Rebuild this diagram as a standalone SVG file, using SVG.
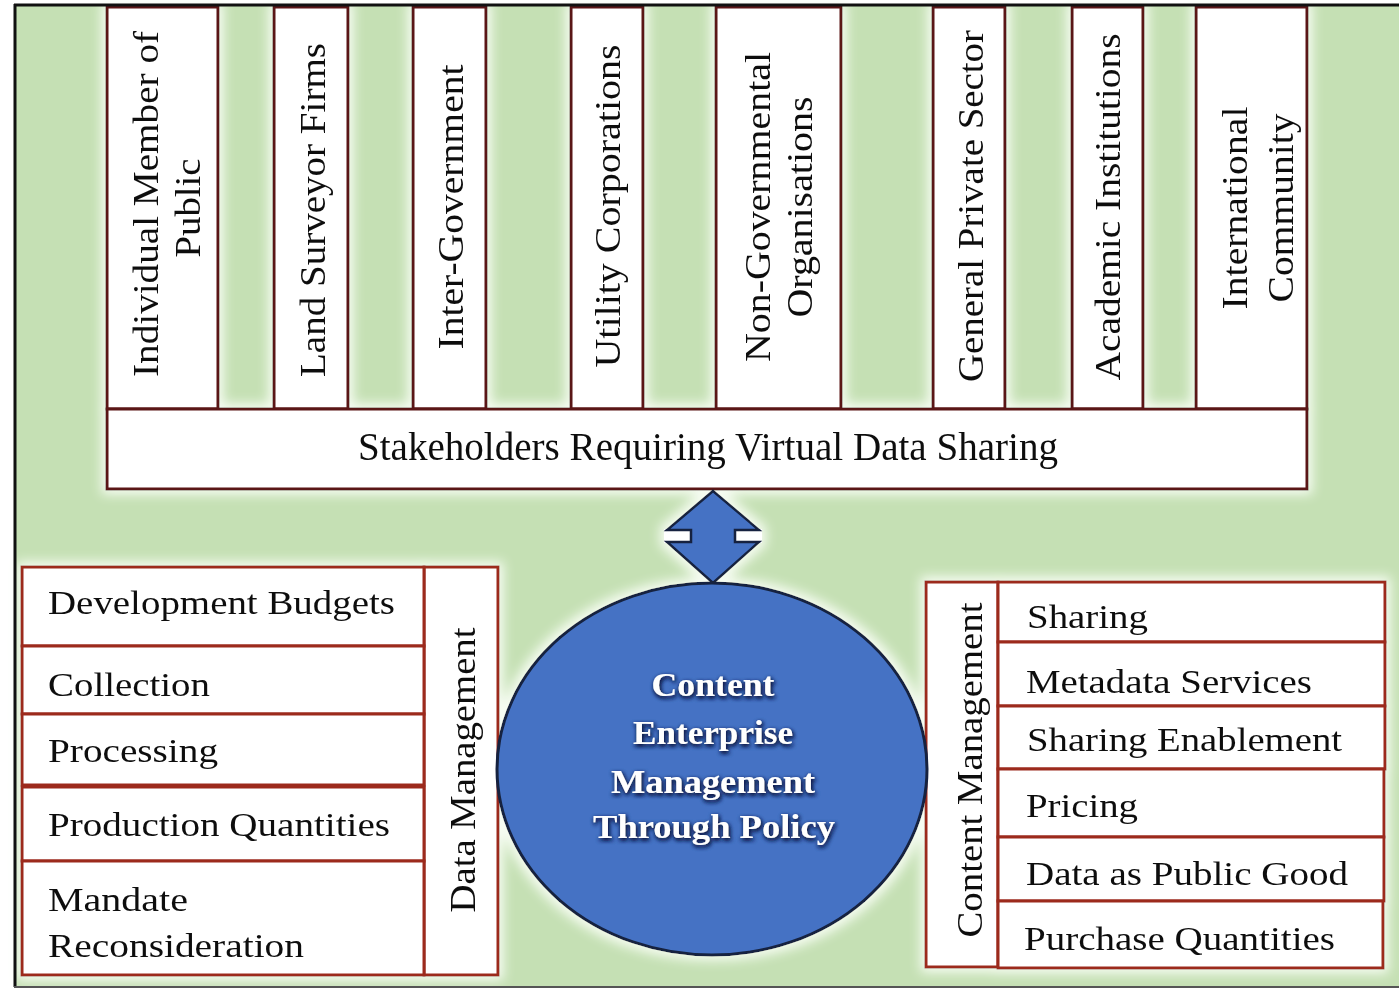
<svg xmlns="http://www.w3.org/2000/svg" width="1399" height="989" viewBox="0 0 1399 989">
<defs>
<style>
.bg{fill:#c5e0b4}
.col{fill:#ffffff;stroke:#5a1414;stroke-width:3}
.box{fill:#ffffff;stroke:#9c2a1e;stroke-width:3}
.vt{font-family:"Liberation Serif","Times New Roman",serif;font-size:36px;fill:#111;text-anchor:middle}
.ht{font-family:"Liberation Serif","Times New Roman",serif;font-size:34px;fill:#111}
.et{font-family:"Liberation Serif","Times New Roman",serif;font-size:34px;font-weight:bold;fill:#ffffff;text-anchor:middle}
</style>
<filter id="glow" x="-5%" y="-5%" width="110%" height="110%">
<feMorphology in="SourceAlpha" operator="dilate" radius="4" result="d"/>
<feGaussianBlur in="d" stdDeviation="6" result="b"/>
<feFlood flood-color="#f6fcf2"/>
<feComposite in2="b" operator="in" result="g"/>
<feMerge><feMergeNode in="g"/><feMergeNode in="SourceGraphic"/></feMerge>
</filter>
<filter id="tsh" x="-20%" y="-40%" width="140%" height="180%">
<feGaussianBlur in="SourceAlpha" stdDeviation="2.2" result="b"/>
<feOffset in="b" dx="1" dy="1.5" result="o"/>
<feFlood flood-color="#14204a"/>
<feComposite in2="o" operator="in" result="s"/>
<feMerge><feMergeNode in="s"/><feMergeNode in="s"/><feMergeNode in="SourceGraphic"/></feMerge>
</filter>
</defs>
<rect x="0" y="0" width="1399" height="989" fill="#ffffff"/>
<rect class="bg" x="15" y="5" width="1384" height="982"/>
<g filter="url(#glow)">
<g id="stakeholders">
<g id="col-individual">
<rect class="col" x="107" y="7" width="111" height="402"/>
<text class="vt" transform="translate(158,204) rotate(-90)" textLength="346" lengthAdjust="spacingAndGlyphs">Individual Member of</text>
<text class="vt" transform="translate(200,208) rotate(-90)" textLength="99" lengthAdjust="spacingAndGlyphs">Public</text>
</g>
<g id="col-land">
<rect class="col" x="274" y="7" width="74" height="402"/>
<text class="vt" transform="translate(325,210) rotate(-90)" textLength="334" lengthAdjust="spacingAndGlyphs">Land Surveyor Firms</text>
</g>
<g id="col-inter">
<rect class="col" x="413" y="7" width="73" height="402"/>
<text class="vt" transform="translate(463,207) rotate(-90)" textLength="285" lengthAdjust="spacingAndGlyphs">Inter-Government</text>
</g>
<g id="col-utility">
<rect class="col" x="571" y="7" width="72" height="402"/>
<text class="vt" transform="translate(620,206) rotate(-90)" textLength="323" lengthAdjust="spacingAndGlyphs">Utility Corporations</text>
</g>
<g id="col-ngo">
<rect class="col" x="716" y="7" width="125" height="402"/>
<text class="vt" transform="translate(770,207) rotate(-90)" textLength="310" lengthAdjust="spacingAndGlyphs">Non-Governmental</text>
<text class="vt" transform="translate(812,207) rotate(-90)" textLength="221" lengthAdjust="spacingAndGlyphs">Organisations</text>
</g>
<g id="col-private">
<rect class="col" x="933" y="7" width="72" height="402"/>
<text class="vt" transform="translate(983,206) rotate(-90)" textLength="352" lengthAdjust="spacingAndGlyphs">General Private Sector</text>
</g>
<g id="col-academic">
<rect class="col" x="1072" y="7" width="71" height="402"/>
<text class="vt" transform="translate(1120,207) rotate(-90)" textLength="347" lengthAdjust="spacingAndGlyphs">Academic Institutions</text>
</g>
<g id="col-international">
<rect class="col" x="1196" y="7" width="111" height="402"/>
<text class="vt" transform="translate(1247,208) rotate(-90)" textLength="203" lengthAdjust="spacingAndGlyphs">International</text>
<text class="vt" transform="translate(1293,208) rotate(-90)" textLength="189" lengthAdjust="spacingAndGlyphs">Community</text>
</g>
<g id="bar-stakeholders">
<rect class="col" x="107" y="409" width="1200" height="80"/>
<text x="358" y="460" font-family="Liberation Serif, Times New Roman, serif" font-size="40" fill="#111" textLength="700" lengthAdjust="spacingAndGlyphs">Stakeholders Requiring Virtual Data Sharing</text>
</g>
</g>
<g id="data-management">
<g id="dm-column">
<rect class="box" x="424" y="567" width="74" height="408"/>
<text class="vt" transform="translate(475,770) rotate(-90)" textLength="285" lengthAdjust="spacingAndGlyphs">Data Management</text>
</g>
<g id="dm-budgets">
<rect class="box" x="22" y="567" width="402" height="79"/>
<text class="ht" x="48" y="614" textLength="347" lengthAdjust="spacingAndGlyphs">Development Budgets</text>
</g>
<g id="dm-collection">
<rect class="box" x="22" y="646" width="402" height="68"/>
<text class="ht" x="48" y="696" textLength="162" lengthAdjust="spacingAndGlyphs">Collection</text>
</g>
<g id="dm-processing">
<rect class="box" x="22" y="714" width="402" height="71"/>
<text class="ht" x="48" y="762" textLength="170" lengthAdjust="spacingAndGlyphs">Processing</text>
</g>
<g id="dm-production">
<rect class="box" x="22" y="787" width="402" height="74"/>
<text class="ht" x="48" y="836" textLength="342" lengthAdjust="spacingAndGlyphs">Production Quantities</text>
</g>
<g id="dm-mandate">
<rect class="box" x="22" y="861" width="402" height="114"/>
<text class="ht" x="48" y="911" textLength="140" lengthAdjust="spacingAndGlyphs">Mandate</text>
<text class="ht" x="48" y="957" textLength="256" lengthAdjust="spacingAndGlyphs">Reconsideration</text>
</g>
</g>
<g id="content-management">
<g id="cm-column">
<rect class="box" x="926" y="582" width="72" height="385"/>
<text class="vt" transform="translate(982,770) rotate(-90)" textLength="335" lengthAdjust="spacingAndGlyphs">Content Management</text>
</g>
<g id="cm-sharing">
<rect class="box" x="998" y="582" width="387" height="60"/>
<text class="ht" x="1027" y="628" textLength="121" lengthAdjust="spacingAndGlyphs">Sharing</text>
</g>
<g id="cm-metadata">
<rect class="box" x="998" y="642" width="387" height="64"/>
<text class="ht" x="1026" y="693" textLength="286" lengthAdjust="spacingAndGlyphs">Metadata Services</text>
</g>
<g id="cm-enablement">
<rect class="box" x="998" y="706" width="387" height="63"/>
<text class="ht" x="1027" y="751" textLength="315" lengthAdjust="spacingAndGlyphs">Sharing Enablement</text>
</g>
<g id="cm-pricing">
<rect class="box" x="998" y="769" width="386" height="68"/>
<text class="ht" x="1026" y="817" textLength="112" lengthAdjust="spacingAndGlyphs">Pricing</text>
</g>
<g id="cm-public-good">
<rect class="box" x="998" y="837" width="386" height="64"/>
<text class="ht" x="1026" y="885" textLength="322" lengthAdjust="spacingAndGlyphs">Data as Public Good</text>
</g>
<g id="cm-purchase">
<rect class="box" x="998" y="901" width="385" height="67"/>
<text class="ht" x="1024" y="950" textLength="311" lengthAdjust="spacingAndGlyphs">Purchase Quantities</text>
</g>
</g>
<g id="connectors">
<rect x="664" y="529" width="98" height="14" fill="#ffffff"/>
<polygon points="713,491 759,530 735,530 735,542 759,542 713,583 667,542 691,542 691,530 667,530" fill="#4472c4" stroke="#16223f" stroke-width="2.5" stroke-linejoin="miter"/>
</g>
<g id="core">
<ellipse cx="712" cy="769" rx="215" ry="186" fill="#4472c4" stroke="#16223f" stroke-width="3"/>
<g filter="url(#tsh)">
<text class="et" x="713" y="696" textLength="123" lengthAdjust="spacingAndGlyphs">Content</text>
<text class="et" x="713" y="744" textLength="160" lengthAdjust="spacingAndGlyphs">Enterprise</text>
<text class="et" x="713" y="793" textLength="204" lengthAdjust="spacingAndGlyphs">Management</text>
<text class="et" x="714" y="838" textLength="242" lengthAdjust="spacingAndGlyphs">Through Policy</text>
</g>
</g>
</g>
<line x1="15" y1="4" x2="15" y2="987" stroke="#111" stroke-width="3"/>
<line x1="14" y1="5" x2="1399" y2="5" stroke="#111" stroke-width="3"/>
<line x1="14" y1="987" x2="1399" y2="987" stroke="#555" stroke-width="2"/>
</svg>
